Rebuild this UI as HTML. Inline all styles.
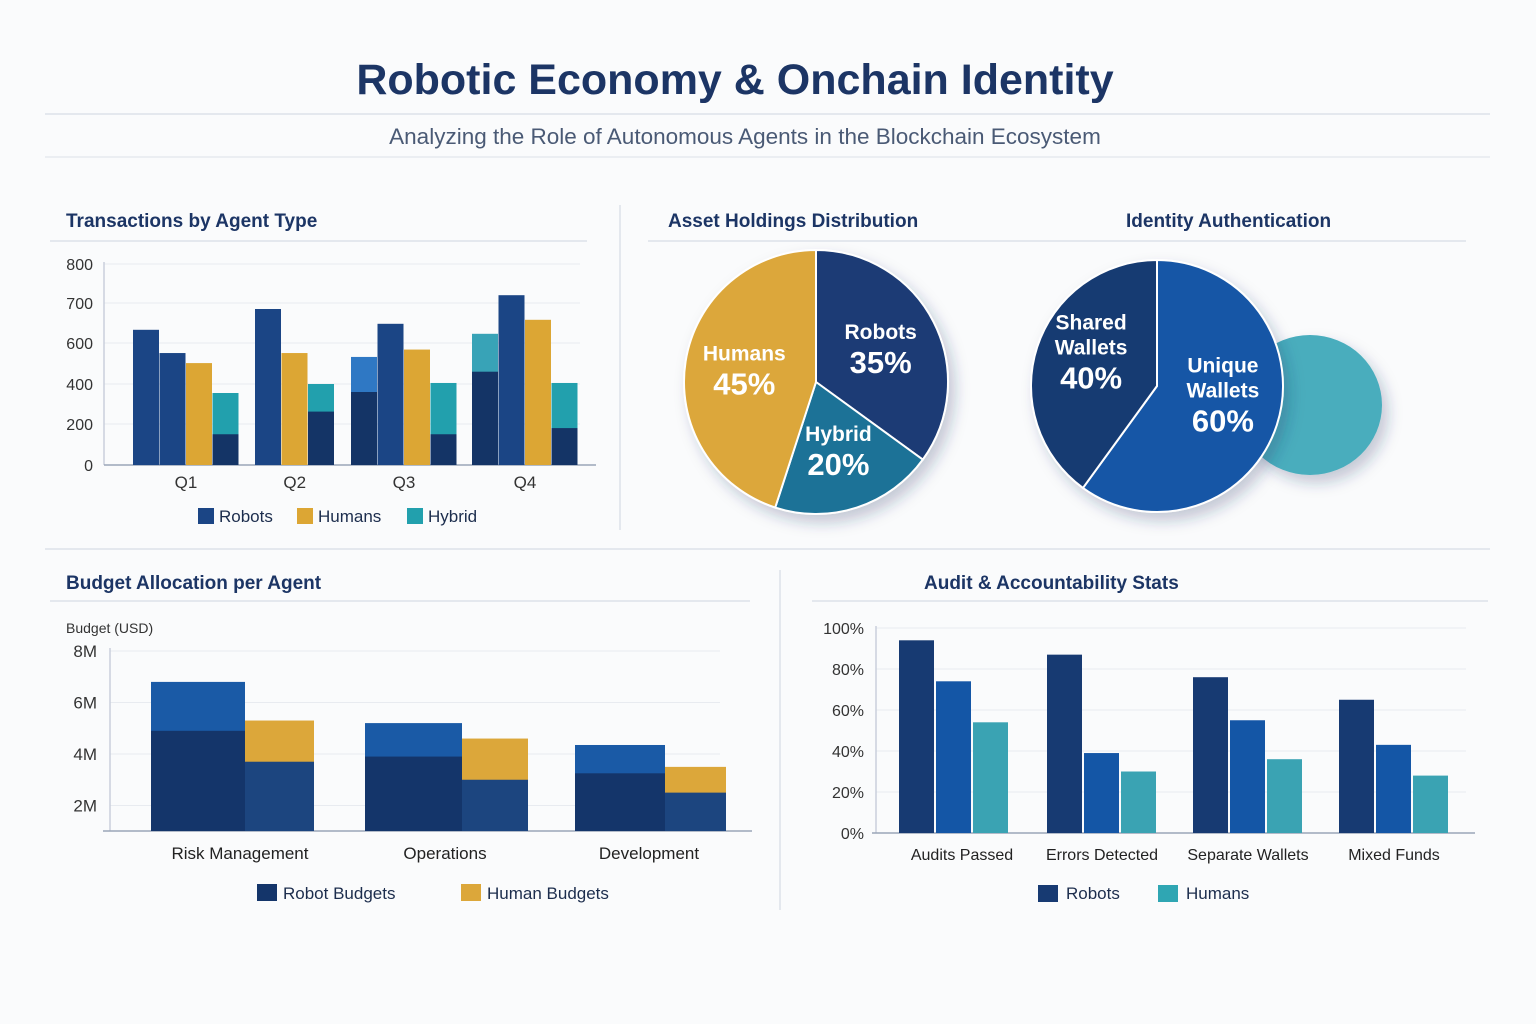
<!DOCTYPE html>
<html><head><meta charset="utf-8">
<style>
html,body{margin:0;padding:0;background:#fafbfc;}
svg{display:block;font-family:"Liberation Sans","DejaVu Sans",sans-serif;}
</style></head>
<body>
<svg id="s" width="1536" height="1024" viewBox="0 0 1536 1024">
<defs>
<filter id="sh" x="-20%" y="-20%" width="150%" height="150%"><feDropShadow dx="6" dy="8" stdDeviation="7" flood-color="#1c3565" flood-opacity="0.25"/></filter>
</defs>
<rect width="1536" height="1024" fill="#fafbfc"/>
<text x="735" y="94" text-anchor="middle" font-size="43" font-weight="bold" fill="#1c3565">Robotic Economy &amp; Onchain Identity</text>
<line x1="45" y1="114" x2="1490" y2="114" stroke="#dde2ea" stroke-width="1.5"/>
<text x="745" y="144" text-anchor="middle" font-size="22.5" fill="#4a5a75">Analyzing the Role of Autonomous Agents in the Blockchain Ecosystem</text>
<line x1="45" y1="157" x2="1490" y2="157" stroke="#e6e9ee" stroke-width="1.5"/>
<line x1="620" y1="205" x2="620" y2="530" stroke="#dde2ea" stroke-width="1.5"/>
<line x1="45" y1="549" x2="1490" y2="549" stroke="#dde2ea" stroke-width="1.5"/>
<line x1="780" y1="570" x2="780" y2="910" stroke="#dde2ea" stroke-width="1.5"/>
<g id="g"></g>
</svg>
<script>
// ---- chart 1: transactions ----
const quarters = ["Q1","Q2","Q3","Q4"];
const txTicks = [0,200,400,600,700,800];
const txSeries = [["robots","robots","humans","hybrid"],["robots","humans","hybrid"],["robotsLight","robots","humans","hybrid"],["hybridLight","robots","humans","hybrid"]];
const txValues = [[633,551,502,355],[685,551,400],[532,648,568,405],[623,720,658,405]];
const txInner = [[0,0,0,150],[0,0,262],[360,0,0,150],[460,0,0,180]];
// ---- chart 2: pies ----
const assetLabels = ["Robots","Hybrid","Humans"];
const assetValues = [35,20,45];
const idLabels = ["Unique Wallets","Shared Wallets"];
const idValues = [60,40];
// ---- chart 3: budget ----
const budgetCats = ["Risk Management","Operations","Development"];
const budgetTicks = [2,4,6,8];
const robotBudget = [6.8,5.2,4.35];
const robotBudgetBase = [4.9,3.9,3.25];
const humanBudget = [5.3,4.6,3.5];
const humanBudgetBase = [3.7,3.0,2.5];
// ---- chart 4: audit ----
const auditCats = ["Audits Passed","Errors Detected","Separate Wallets","Mixed Funds"];
const auditTicks = [0,20,40,60,80,100];
const auditRobots = [94,87,76,65];
const auditMid = [74,39,55,43];
const auditHumans = [54,30,36,28];

const NS="http://www.w3.org/2000/svg";
const G=document.getElementById('g');
function el(tag,attrs,parent){const e=document.createElementNS(NS,tag);for(const k in attrs)e.setAttribute(k,attrs[k]);(parent||G).appendChild(e);return e;}
function txt(x,y,s,size,fill,anchor,weight){const t=el('text',{x:x,y:y,'font-size':size,fill:fill,'text-anchor':anchor||'start','font-weight':weight||'normal'});t.textContent=s;return t;}

[["Transactions by Agent Type",66,227,50,587],["Asset Holdings Distribution",668,227,648,1000],["Identity Authentication",1126,227,1000,1466],["Budget Allocation per Agent",66,589,50,750],["Audit & Accountability Stats",924,589,812,1488]].forEach(h=>{
 const t=txt(h[1],h[2],h[0],19,'#1c3565','start','bold');
 
 
 const l=el('line',{x1:h[3],y1:241+(h[2]>500?360:0),x2:h[4],y2:241+(h[2]>500?360:0),stroke:'#dde2ea','stroke-width':1.5});
 
 
});

// chart 1
const txTickY=[465,424,384,343,303,264];
function yTx(v){for(let i=0;i<txTicks.length-1;i++){if(v<=txTicks[i+1]){const f=(v-txTicks[i])/(txTicks[i+1]-txTicks[i]);return txTickY[i]+f*(txTickY[i+1]-txTickY[i]);}}return txTickY[txTickY.length-1];}
txTicks.forEach(t=>{const y=yTx(t);
 const l=el('line',{x1:104,y1:y,x2:580,y2:y,stroke:'#e8ebf0','stroke-width':1});
 
 const lb=txt(93,y+6,String(t),16,'#333','end');
 });
el('line',{x1:104,y1:262,x2:104,y2:465,stroke:'#c9d0db','stroke-width':1.5});
el('line',{x1:104,y1:465,x2:596,y2:465,stroke:'#9aa6b8','stroke-width':1.5});
const colTx={robots:'#1b4585',humans:'#dca634',hybrid:'#22a0ad',robotsLight:'#2f78c4',hybridLight:'#38a3b7'};
const groupStart=[133,255,351,472];const bw=26.5;
quarters.forEach((q,i)=>{
 txSeries[i].forEach((s,j)=>{const x=groupStart[i]+j*bw;const v=txValues[i][j];
  const r=el('rect',{x:x,y:yTx(v),width:bw-0.5,height:465-yTx(v),fill:colTx[s]});
  
  if(txInner[i][j]>0){const r2=el('rect',{x:x,y:yTx(txInner[i][j]),width:bw-0.5,height:465-yTx(txInner[i][j]),fill:'#143466'});
   }
 });
 const n=txSeries[i].length;const lb=txt(groupStart[i]+n*bw/2,488,q,17,'#333','middle');
 
});
[["Robots",198,'#1b4585'],["Humans",297,'#dca634'],["Hybrid",407,'#22a0ad']].forEach(e=>{
 const r=el('rect',{x:e[1],y:508,width:16,height:16,fill:e[2]});
 const t=txt(e[1]+21,522,e[0],17,'#1c2d4d');});

// pies
function arc(cx,cy,r,a0,a1){const p0=[cx+r*Math.sin(a0),cy-r*Math.cos(a0)],p1=[cx+r*Math.sin(a1),cy-r*Math.cos(a1)];
 return `M${cx},${cy}L${p0[0]},${p0[1]}A${r},${r} 0 ${a1-a0>Math.PI?1:0} 1 ${p1[0]},${p1[1]}Z`;}
function pie(cx,cy,r,vals,labels,cols,name){const tot=vals.reduce((a,b)=>a+b,0);let a=0;
 const g=el('g',{filter:'url(#sh)'});
 vals.forEach((v,i)=>{const a1=a+v/tot*2*Math.PI;
  const p=el('path',{d:arc(cx,cy,r,a,a1),fill:cols[i],stroke:'#fff','stroke-width':2},g);
  
  const m=(a+a1)/2,lr=r*0.55,lx=cx+lr*Math.sin(m),ly=cy-lr*Math.cos(m);
  const words=labels[i].split(' ');
  words.forEach((w,k)=>{const t=txt(lx,ly-10-(words.length-1-k)*25,w,21,'#fff','middle','bold');
   });
  const t2=txt(lx,ly+24,v+'%',31,'#fff','middle','bold');
  a=a1;});}
pie(816,382,132,assetValues,assetLabels,['#1a3b74','#1a7297','#dca73a'],'asset-pie');
const bub=el('ellipse',{cx:1310,cy:405,rx:72,ry:70,fill:'#48adbd',filter:'url(#sh)'});

pie(1157,386,126,idValues,idLabels,['#1456a6','#173a72'],'identity-pie');

// chart 3 budget
function yB(v){return 857-25.75*v;}
budgetTicks.forEach(t=>{const y=yB(t);
 const l=el('line',{x1:110,y1:y,x2:720,y2:y,stroke:'#e8ebf0','stroke-width':1});
 const lb=txt(97,y+6,t+'M',17,'#333','end');});
const yl=txt(66,633,'Budget (USD)',14,'#333');
el('line',{x1:110,y1:648,x2:110,y2:831,stroke:'#c9d0db','stroke-width':1.5});
el('line',{x1:103,y1:831,x2:752,y2:831,stroke:'#9aa6b8','stroke-width':1.5});
const bx=[151,365,575],rw=[94,97,90],hw=[69,66,61];
budgetCats.forEach((c,i)=>{
 const r1=el('rect',{x:bx[i],y:yB(robotBudget[i]),width:rw[i],height:831-yB(robotBudget[i]),fill:'#1a5aa6'});
 const r2=el('rect',{x:bx[i],y:yB(robotBudgetBase[i]),width:rw[i],height:831-yB(robotBudgetBase[i]),fill:'#14356a'});
 const hx=bx[i]+rw[i];
 const r3=el('rect',{x:hx,y:yB(humanBudget[i]),width:hw[i],height:831-yB(humanBudget[i]),fill:'#dca73a'});
 const r4=el('rect',{x:hx,y:yB(humanBudgetBase[i]),width:hw[i],height:831-yB(humanBudgetBase[i]),fill:'#1c457f'});
 const t=txt([240,445,649][i],859,c,17,'#222','middle');});
[["Robot Budgets",257,'#14356a'],["Human Budgets",461,'#dca73a']].forEach(e=>{
 const r=el('rect',{x:e[1],y:884,width:20,height:17,fill:e[2]});
 const t=txt(e[1]+26,899,e[0],17,'#1c2d4d');});

// chart 4 audit
function yA(v){return 833-2.05*v;}
auditTicks.forEach(t=>{const y=yA(t);
 const l=el('line',{x1:876,y1:y,x2:1466,y2:y,stroke:'#e8ebf0','stroke-width':1});
 const lb=txt(864,y+6,t+'%',16,'#333','end');});
el('line',{x1:876,y1:626,x2:876,y2:833,stroke:'#c9d0db','stroke-width':1.5});
el('line',{x1:872,y1:833,x2:1475,y2:833,stroke:'#9aa6b8','stroke-width':1.5});
const ax=[899,1047,1193,1339];
auditCats.forEach((c,i)=>{
 [[auditRobots,'#173a72','robots'],[auditMid,'#1456a6','mid'],[auditHumans,'#3aa3b3','humans']].forEach((s,j)=>{
  const v=s[0][i];const r=el('rect',{x:ax[i]+j*37,y:yA(v),width:35,height:833-yA(v),fill:s[1]});
  });
 const t=txt(ax[i]+55+(i==0?8:0),860,c,16,'#222','middle');});
[["Robots",1038,'#173a72'],["Humans",1158,'#2fa6b3']].forEach(e=>{
 const r=el('rect',{x:e[1],y:885,width:20,height:17,fill:e[2]});
 const t=txt(e[1]+28,899,e[0],17,'#1c2d4d');});
</script>
</body></html>
